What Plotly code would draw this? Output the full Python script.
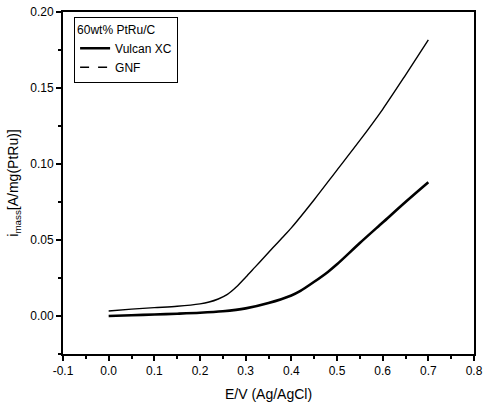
import plotly.graph_objects as go

potential_gnf = [0.0, 0.05, 0.1, 0.15, 0.2, 0.22, 0.24, 0.26, 0.28, 0.30, 0.32, 0.34, 0.36, 0.38, 0.40,
                 0.45, 0.50, 0.55, 0.60, 0.65, 0.70]
gnf = [0.0033, 0.0045, 0.0055, 0.0064, 0.0080, 0.0092, 0.0112, 0.0142, 0.0192, 0.0255, 0.0320, 0.0385,
       0.0450, 0.0515, 0.0580, 0.0765, 0.0960, 0.1155, 0.1360, 0.1585, 0.1816]

potential_vulcan = [0.0, 0.05, 0.1, 0.15, 0.2, 0.25, 0.3, 0.35, 0.4, 0.42, 0.45, 0.48, 0.5, 0.55, 0.6,
                    0.65, 0.7]
vulcan = [0.0, 0.0005, 0.0010, 0.0015, 0.0021, 0.0031, 0.0050, 0.0085, 0.0135, 0.0165, 0.0225, 0.0290,
          0.0340, 0.0480, 0.0615, 0.0750, 0.0880]

x_ticks = [-0.1, 0.0, 0.1, 0.2, 0.3, 0.4, 0.5, 0.6, 0.7, 0.8]
x_labels = ["-0.1", "0.0", "0.1", "0.2", "0.3", "0.4", "0.5", "0.6", "0.7", "0.8"]
y_ticks = [0.0, 0.05, 0.10, 0.15, 0.20]
y_labels = ["0.00", "0.05", "0.10", "0.15", "0.20"]

fig = go.Figure()
fig.add_trace(go.Scatter(x=potential_vulcan, y=vulcan, mode="lines", name="Vulcan XC",
                         line=dict(color="black", width=2.6, shape="spline", smoothing=0.8)))
fig.add_trace(go.Scatter(x=potential_gnf, y=gnf, mode="lines", name="GNF", showlegend=False,
                         line=dict(color="black", width=1.4, shape="spline", smoothing=0.8)))
fig.add_trace(go.Scatter(x=[None], y=[None], mode="lines", name="GNF",
                         line=dict(color="black", width=1.4, dash="dash")))

font = dict(family="Liberation Sans, Arial, sans-serif", color="black")
fig.update_layout(
    width=484, height=409,
    margin=dict(l=63, r=10, t=12, b=55),
    paper_bgcolor="white", plot_bgcolor="white",
    font=dict(size=12, **font),
    legend=dict(
        title=dict(text="60wt% PtRu/C", font=dict(size=12, **font)),
        x=0.027, y=0.985, xanchor="left", yanchor="top",
        bordercolor="black", borderwidth=1, bgcolor="white",
        font=dict(size=12, **font), tracegroupgap=0, itemwidth=30,
    ),
    xaxis=dict(
        range=[-0.1, 0.8], tickvals=x_ticks, ticktext=x_labels,
        ticks="outside", ticklen=5, tickwidth=1.5, tickcolor="black",
        showline=True, linecolor="black", linewidth=2, mirror=True,
        showgrid=False, zeroline=False, automargin=False,
        minor=dict(dtick=0.05, tick0=0, ticks="outside", ticklen=3, tickcolor="black", showgrid=False),
        title=dict(text="E/V (Ag/AgCl)", font=dict(size=14, **font), standoff=12),
        tickfont=dict(size=12, **font),
    ),
    yaxis=dict(
        range=[-0.025, 0.20], tickvals=y_ticks, ticktext=y_labels,
        ticks="outside", ticklen=5, tickwidth=1.5, tickcolor="black",
        showline=True, linecolor="black", linewidth=2, mirror=True,
        showgrid=False, zeroline=False, automargin=False,
        minor=dict(dtick=0.025, tick0=0, ticks="outside", ticklen=3, tickcolor="black", showgrid=False),
        title=dict(text="i<sub>mass</sub>[A/mg(PtRu)]", font=dict(size=14, **font), standoff=8),
        tickfont=dict(size=12, **font),
    ),
)

fig.write_html("out.html", config={"displayModeBar": False},
               post_script="document.body.style.margin='0';")
